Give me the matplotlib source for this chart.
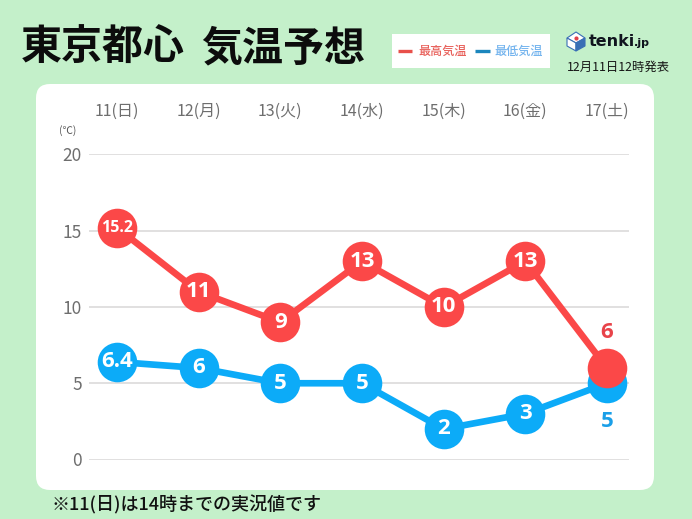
import matplotlib
matplotlib.use('Agg')
import matplotlib.pyplot as plt
from matplotlib.patches import FancyBboxPatch, Polygon, Rectangle

W, H = 692, 519
JP = ['Noto Sans CJK JP', 'DejaVu Sans']

days = ['11(日)', '12(月)', '13(火)', '14(水)', '15(木)', '16(金)', '17(土)']
temp_high = [15.2, 11, 9, 13, 10, 13, 6]
temp_low = [6.4, 6, 5, 5, 2, 3, 5]
high_labels = ['15.2', '11', '9', '13', '10', '13', '']
low_labels = ['6.4', '6', '5', '5', '2', '3', '']
y_ticks = [0, 5, 10, 15, 20]

RED = '#fb4848'
BLUE = '#0cabf8'
GREEN = '#c4f0ca'
GRID = '#dcdada'
TICK = '#6e6e6e'

plt.rcParams['font.family'] = JP

fig = plt.figure(figsize=(W / 100, H / 100), dpi=100, facecolor=GREEN)

# background layer in pixel coords, y going down
bg = fig.add_axes([0, 0, 1, 1])
bg.set_xlim(0, W)
bg.set_ylim(H, 0)
bg.axis('off')

bg.add_patch(FancyBboxPatch((36 + 14, 84 + 14), 618 - 28, 406 - 28,
                            boxstyle='round,pad=14,rounding_size=14',
                            fc='white', ec='none'))
bg.add_patch(Rectangle((392, 34), 158, 34, fc='white', ec='none'))

bg.text(21, 48, '東京都心', fontsize=29.5, fontweight='bold', color='#0c0c0c',
        ha='left', va='center')
bg.text(201, 48, '気温予想', fontsize=29.5, fontweight='bold', color='#0c0c0c',
        ha='left', va='center')

# legend
bg.plot([398, 412], [51, 51], color='#e8504a', lw=2.4, solid_capstyle='butt')
bg.text(418, 51, '最高気温', fontsize=8.7, fontweight='medium', color='#e8605a', ha='left', va='center')
bg.plot([475, 490], [51, 51], color='#1b86bd', lw=2.4, solid_capstyle='butt')
bg.text(494, 51, '最低気温', fontsize=8.7, fontweight='medium', color='#74b4ee', ha='left', va='center')

# logo, small cube
bg.add_patch(Polygon([[567, 38], [576, 32], [585, 38], [576, 43]], fc='#ffffff', ec='#3a6fb5', lw=0.8))
bg.add_patch(Polygon([[567, 38], [576, 43], [576, 51], [567, 46]], fc='#ffffff', ec='#3a6fb5', lw=0.8))
bg.add_patch(Polygon([[585, 38], [576, 43], [576, 51], [585, 46]], fc='#3a6fb5', ec='#3a6fb5', lw=0.8))
bg.plot([576], [37.5], marker='o', ms=3, color='#e0404a', mew=0)
bg.text(589, 41, 'tenki', fontsize=11.5, fontweight='bold', color='#10141e',
        family='DejaVu Sans', ha='left', va='center')
bg.text(634, 43, '.jp', fontsize=8, fontweight='bold', color='#10141e',
        family='DejaVu Sans', ha='left', va='center')
bg.text(567, 67, '12月11日12時発表', fontsize=8.9, color='#151515', ha='left', va='center')

bg.text(51, 505, '※11(日)は14時までの実況値です', fontsize=13, fontweight='medium', color='#111111',
        ha='left', va='center')
bg.text(68, 131, '(℃)', fontsize=7.5, color='#555555', ha='center', va='center')

# chart axes: gridlines run 89..629 px, 0 at 459.5, 20 at 154.5
ax = fig.add_axes([89 / W, 1 - 459.5 / H, 540 / W, 305 / H])
ax.patch.set_alpha(0)
x = list(range(len(days)))
ax.set_xlim(-28 / 81.7, 6 + 22 / 81.7)
ax.set_ylim(0, 20)
for s in ax.spines.values():
    s.set_visible(False)
ax.set_yticks(y_ticks)
ax.set_yticklabels([str(v) for v in y_ticks], fontsize=12.5, color=TICK)
ax.tick_params(axis='y', length=0, pad=5)
ax.set_xticks(x)
ax.set_xticklabels(days, fontsize=11.5, color=TICK)
ax.xaxis.tick_top()
ax.tick_params(axis='x', length=0, pad=25)
ax.grid(axis='y', color=GRID, lw=1.2)
ax.set_axisbelow(True)

ax.plot(x, temp_low, color=BLUE, lw=4.8, marker='o', ms=28.5, mew=0, clip_on=False, zorder=3)
ax.plot(x, temp_high, color=RED, lw=4.8, marker='o', ms=28.5, mew=0, clip_on=False, zorder=4)

for xi, v, lab in zip(x, temp_low, low_labels):
    ax.text(xi, v, lab, fontsize=16, fontweight='bold', color='white', ha='center',
            va='center', zorder=5, family='Open Sans')
for xi, v, lab in zip(x, temp_high, high_labels):
    size = 11.5 if '.' in lab else 16
    ax.text(xi, v, lab, fontsize=size, fontweight='bold', color='white', ha='center',
            va='center', zorder=5, family='Open Sans')

# last day is labelled outside the markers
ax.text(x[-1], temp_high[-1] + 2.3, str(temp_high[-1]), fontsize=16, fontweight='bold', color='#e8434a',
        ha='center', va='center', zorder=5, family='Open Sans')
ax.text(x[-1], temp_low[-1] - 2.5, str(temp_low[-1]), fontsize=16, fontweight='bold', color='#1a9fe8',
        ha='center', va='center', zorder=5, family='Open Sans')

fig.savefig('out.png', dpi=100, facecolor=GREEN)
